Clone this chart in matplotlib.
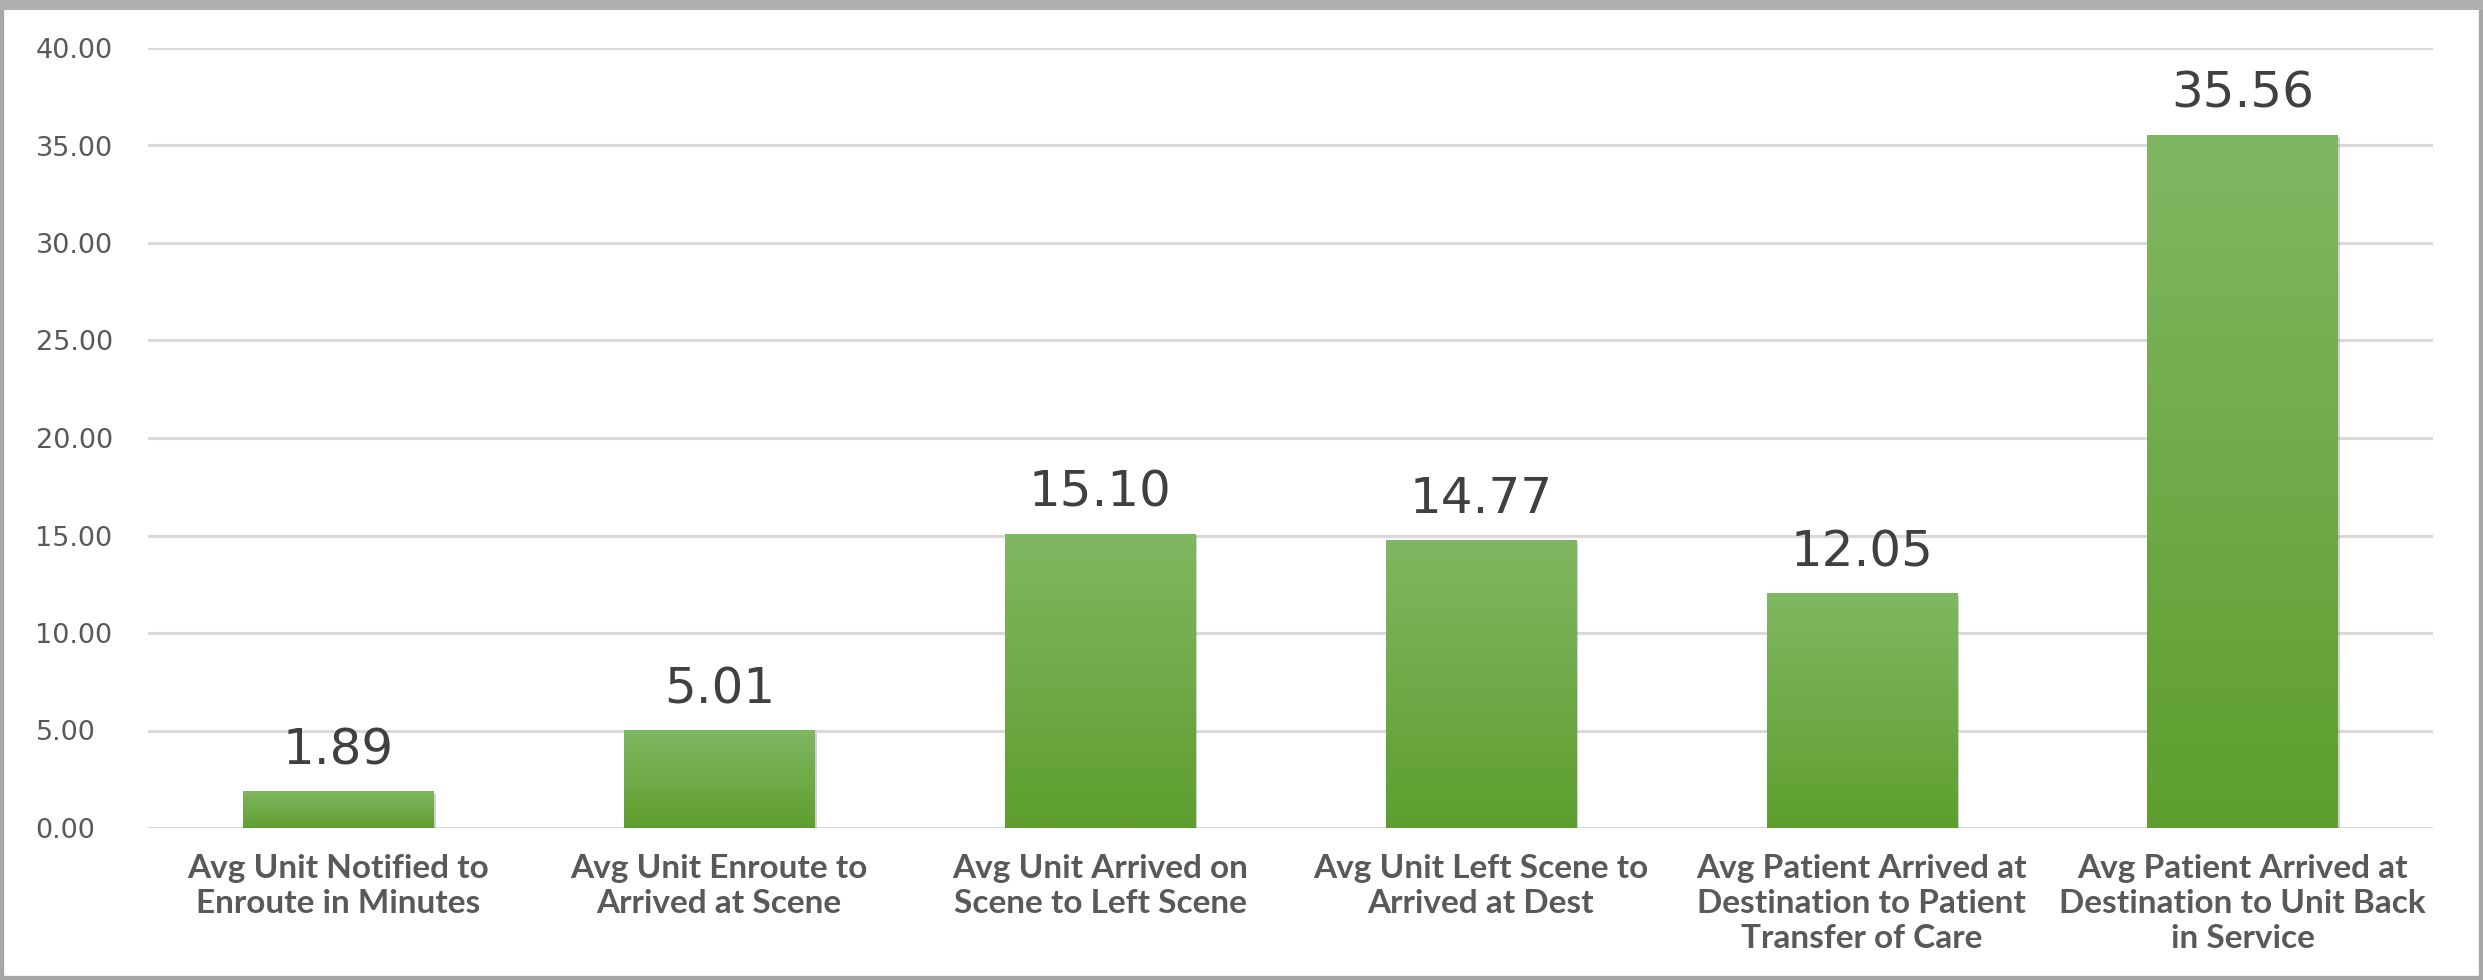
import numpy as np
import matplotlib
matplotlib.use("Agg")
import matplotlib.pyplot as plt
from matplotlib.patches import Rectangle
import matplotlib.patheffects as pe

categories = [
    "Avg Unit Notified to\nEnroute in Minutes",
    "Avg Unit Enroute to\nArrived at Scene",
    "Avg Unit Arrived on\nScene to Left Scene",
    "Avg Unit Left Scene to\nArrived at Dest",
    "Avg Patient Arrived at\nDestination to Patient\nTransfer of Care",
    "Avg Patient Arrived at\nDestination to Unit Back\nin Service",
]
values = [1.89, 5.01, 15.10, 14.77, 12.05, 35.56]
yticks = [0, 5, 10, 15, 20, 25, 30, 35, 40]

W, H, DPI = 2483, 980, 100
fig = plt.figure(figsize=(W / DPI, H / DPI), dpi=DPI)
fig.patch.set_facecolor("white")

ax = fig.add_axes([148 / W, (H - 828) / H, (2433 - 148) / W, (828 - 48) / H])
ax.set_xlim(-0.5, len(values) - 0.5)
ax.set_ylim(0, 40)
ax.set_yticks(yticks)
ax.set_yticklabels([f"{v:.2f}" for v in yticks], fontsize=19.5, color="#595959",
                   family=["DejaVu Sans"])
ax.set_xticks(range(len(values)))
ax.set_xticklabels(categories, fontsize=24, color="#595959", fontweight="bold",
                   family=["Lato", "DejaVu Sans"], linespacing=1.25)
ax.tick_params(axis="both", length=0)
ax.tick_params(axis="y", pad=81)
ax.tick_params(axis="x", pad=19)
for lab in ax.get_yticklabels():
    lab.set_horizontalalignment("left")
for s in ax.spines.values():
    s.set_visible(False)
ax.yaxis.grid(True, color="#d9d9d9", linewidth=2.2)
ax.set_axisbelow(True)

top_c = np.array([128, 183, 98]) / 255
bot_c = np.array([94, 158, 46]) / 255
grad = np.linspace(0, 1, 256)[:, None]
img = top_c[None, None, :] * (1 - grad[..., None]) + bot_c[None, None, :] * grad[..., None]

bars = ax.bar(range(len(values)), values, width=0.5, color="none", edgecolor="none", zorder=3)
for b, v in zip(bars, values):
    x0, w = b.get_x(), b.get_width()
    sh = Rectangle((x0, 0), w, v, facecolor="#7f7f7f", edgecolor="none", zorder=2.5, alpha=0.35,
                   path_effects=[pe.SimplePatchShadow(offset=(1.5, -2), alpha=0.35, shadow_rgbFace="#808080")])
    ax.add_patch(sh)
    im = ax.imshow(img, extent=(x0, x0 + w, 0, v), aspect="auto", zorder=3, interpolation="bilinear")
    rect = Rectangle((x0, 0), w, v, transform=ax.transData, facecolor="none", edgecolor="none")
    ax.add_patch(rect)
    im.set_clip_path(rect)
    ax.annotate(f"{v:.2f}", (b.get_x() + w / 2, v), xytext=(0, 12), textcoords="offset points",
                ha="center", va="bottom", fontsize=36, color="#404040",
                family=["DejaVu Sans"])
ax.set_xlim(-0.5, len(values) - 0.5)
ax.set_ylim(0, 40)

# outer frame
fig.patches.append(Rectangle((0, 0), 1, 1, transform=fig.transFigure, fill=False,
                             edgecolor="#a6a6a6", linewidth=6, zorder=10))
fig.patches.append(Rectangle((0, (H - 10) / H), 1, 10 / H, transform=fig.transFigure,
                             facecolor="#b0b0b0", edgecolor="none", zorder=10))

fig.savefig("out.png", dpi=DPI)
